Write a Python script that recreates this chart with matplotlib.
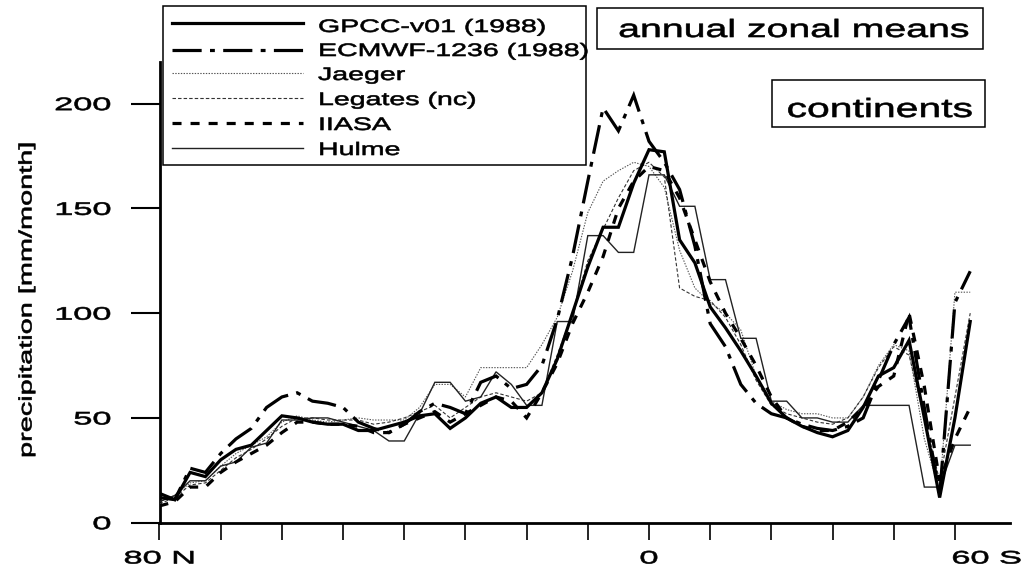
import matplotlib
matplotlib.use("Agg")
import matplotlib.pyplot as plt
from matplotlib.patheffects import AbstractPathEffect
from matplotlib.transforms import Affine2D
from matplotlib.patches import Rectangle
from matplotlib.lines import Line2D

plt.rcParams['font.family'] = ['Liberation Sans', 'DejaVu Sans']
plt.rcParams['lines.scale_dashes'] = False

# latitude of each 2.5 degree zonal band (north positive)
lat = [80, 77.5, 75, 72.5, 70, 67.5, 65, 62.5, 60, 57.5,
       55, 52.5, 50, 47.5, 45, 42.5, 40, 37.5, 35, 32.5,
       30, 27.5, 25, 22.5, 20, 17.5, 15, 12.5, 10, 7.5,
       5, 2.5, 0, -2.5, -5, -7.5, -10, -12.5, -15, -17.5,
       -20, -22.5, -25, -27.5, -30, -32.5, -35, -37.5, -40, -42.5,
       -45, -47.5, -50, -52.5]

# annual zonal mean precipitation over land [mm/month]
gpcc = [14, 11, 24, 22, 30, 35, 37, 44, 51, 50,
        48, 47, 47, 44, 44, 46, 48, 51, 52, 45,
        50, 57, 60, 55, 55, 62, 78, 100, 122, 141,
        141, 162, 178, 177, 135, 124, 103, 93, 82, 70,
        57, 50, 46, 43, 41, 44, 55, 70, 74, 87,
        50, 12, 50, 96]
ecmwf = [12, 11, 26, 24, 33, 40, 45, 55, 60, 62,
         58, 57, 55, 48, 45, 43, 47, 53, 57, 55,
         52, 67, 70, 64, 66, 75, 97, 127, 163, 198,
         187, 204, 182, 172, 159, 132, 95, 84, 66, 57,
         52, 50, 47, 45, 44, 46, 50, 68, 85, 98,
         55, 13, 105, 120]
jaeger = [10, 13, 19, 20, 27, 33, 37, 41, 48, 51,
          49, 48, 49, 50, 49, 49, 49, 55, 66, 66,
          60, 74, 74, 74, 74, 85, 98, 120, 148, 163,
          168, 172, 170, 160, 130, 112, 105, 100, 92, 70,
          58, 54, 52, 52, 50, 50, 60, 75, 85, 82,
          40, 15, 110, 110]
legates = [9, 12, 18, 19, 25, 31, 35, 40, 46, 50,
           50, 49, 49, 49, 47, 48, 50, 53, 56, 50,
           55, 60, 62, 60, 58, 62, 80, 100, 125, 140,
           155, 168, 172, 165, 112, 108, 106, 98, 85, 68,
           56, 52, 50, 48, 47, 50, 60, 74, 84, 80,
           50, 20, 60, 100]
iiasa = [8, 10, 17, 17, 24, 29, 33, 37, 43, 48,
         48, 47, 47, 46, 43, 43, 47, 50, 53, 48,
         52, 56, 60, 58, 50, 62, 76, 95, 110, 127,
         150, 163, 170, 168, 155, 135, 115, 100, 88, 75,
         60, 50, 46, 44, 44, 48, 55, 65, 70, 100,
         65, 20, 40, 55]
hulme = [10, 13, 20, 20, 27, 29, 36, 38, 49, 49,
         50, 50, 48, 46, 44, 39, 39, 52, 67, 67,
         58, 60, 72, 66, 56, 56, 96, 96, 137, 137,
         129, 129, 166, 166, 151, 151, 116, 116, 88, 88,
         58, 58, 50, 50, 48, 48, 56, 56, 56, 56,
         17, 17, 37, 37]

series_names = ['GPCC-v01 (1988)', 'ECMWF-1236 (1988)', 'Jaeger',
                'Legates (nc)', 'IIASA', 'Hulme']
y_ticks = [0, 50, 100, 150, 200]
x_ticks = [80, 70, 60, 50, 40, 30, 20, 10, 0, -10, -20, -30, -40, -50]
x_tick_labels = ['80 N', '', '', '', '', '', '', '', '0', '', '', '', '', '']
south_label = '60 S'


class WideFace(AbstractPathEffect):
    """Draw glyphs widened along the writing direction (extended, heavy face)."""

    def __init__(self, factor, anchor='left', stroke=0.45):
        super().__init__()
        self.factor = factor
        self.anchor = anchor
        self.stroke = stroke

    def draw_path(self, renderer, gc, tpath, affine, rgbFace=None):
        ext = tpath.get_extents()
        if self.anchor == 'left':
            cx = 0.0
        elif self.anchor == 'center':
            cx = 0.5 * (ext.x0 + ext.x1)
        else:
            cx = ext.x1
        widen = Affine2D().translate(-cx, 0).scale(self.factor, 1).translate(cx, 0)
        gc0 = renderer.new_gc()
        gc0.copy_properties(gc)
        gc0.set_linewidth(self.stroke)
        if rgbFace is not None:
            gc0.set_foreground(rgbFace)
        gc0.set_joinstyle('round')
        renderer.draw_path(gc0, tpath, widen + affine, rgbFace)
        gc0.restore()


W, H = 1032, 578


def fx(px):
    return px / W


def fy(py):
    return 1 - py / H


styles = {
    'GPCC-v01 (1988)': dict(color='black', lw=2.3, ls='-', zorder=6),
    'ECMWF-1236 (1988)': dict(color='black', lw=2.3, ls=(0, (21, 6, 3.5, 6)), zorder=5),
    'Jaeger': dict(color='#555555', lw=0.8, ls=(0, (1.0, 1.0)), zorder=3),
    'Legates (nc)': dict(color='#333333', lw=0.8, ls=(0, (2.5, 1.5)), zorder=3),
    'IIASA': dict(color='black', lw=2.3, ls=(0, (6.5, 6.5)), zorder=4),
    'Hulme': dict(color='#222222', lw=1.0, ls='-', zorder=3),
}
values = [gpcc, ecmwf, jaeger, legates, iiasa, hulme]

fig = plt.figure(figsize=(W / 100, H / 100), dpi=100)
ax = fig.add_axes([fx(159.5), fy(522.7), fx(1010) - fx(159.5), fy(61.7) - fy(522.7)])

for name, vals in zip(series_names, values):
    ax.plot(lat, vals, solid_joinstyle='miter', dash_joinstyle='miter', **styles[name])

ax.set_xlim(80, -59)
ax.set_ylim(0, 220)
for side in ('top', 'right'):
    ax.spines[side].set_visible(False)
for side in ('left', 'bottom'):
    ax.spines[side].set_linewidth(2.0)

ax.set_yticks(y_ticks, labels=[str(v) for v in y_ticks])
ax.set_xticks(x_ticks, labels=x_tick_labels)
ax.set_xticks([-55.2], labels=[south_label], minor=True)
ax.tick_params(axis='y', length=21, width=1.5, pad=14, labelsize=13)
ax.tick_params(axis='x', which='major', length=12, width=1.2, pad=8, labelsize=13)
ax.tick_params(axis='x', which='minor', length=0, pad=20, labelsize=13)
for t in ax.get_yticklabels():
    t.set_path_effects([WideFace(1.9, 'right')])
for t in ax.get_xticklabels() + ax.get_xticklabels(minor=True):
    t.set_path_effects([WideFace(1.9, 'center')])

fig.text(fx(27), fy(300), 'precipitation [mm/month]', rotation=90,
         ha='center', va='center', fontsize=13,
         path_effects=[WideFace(1.6, 'center')])

# legend panel
fig.add_artist(Rectangle((fx(163), fy(165)), fx(586) - fx(163), fy(6) - fy(165),
                         transform=fig.transFigure, facecolor='white',
                         edgecolor='black', lw=1.1, zorder=10))
line_rows = [23, 50, 73, 98, 123, 148]
text_rows = [32, 56, 80, 105, 130, 155]
for name, ly, ty in zip(series_names, line_rows, text_rows):
    st = dict(styles[name])
    st.pop('zorder')
    fig.add_artist(Line2D([fx(172), fx(303)], [fy(ly), fy(ly)],
                          transform=fig.transFigure, zorder=11, **st))
    fig.text(fx(318), fy(ty), name, ha='left', va='baseline', fontsize=13,
             zorder=11, path_effects=[WideFace(1.58, 'left')])

# caption boxes
fig.add_artist(Rectangle((fx(597), fy(49)), fx(983) - fx(597), fy(8) - fy(49),
                         transform=fig.transFigure, fill=False,
                         edgecolor='black', lw=1.1))
fig.text(fx(794), fy(37), 'annual zonal means', ha='center', va='baseline',
         fontsize=18, path_effects=[WideFace(1.57, 'center')])
fig.add_artist(Rectangle((fx(772), fy(127)), fx(985) - fx(772), fy(80) - fy(127),
                         transform=fig.transFigure, fill=False,
                         edgecolor='black', lw=1.1))
fig.text(fx(880), fy(117), 'continents', ha='center', va='baseline',
         fontsize=19, path_effects=[WideFace(1.55, 'center')])

fig.savefig('out.png', dpi=100)
